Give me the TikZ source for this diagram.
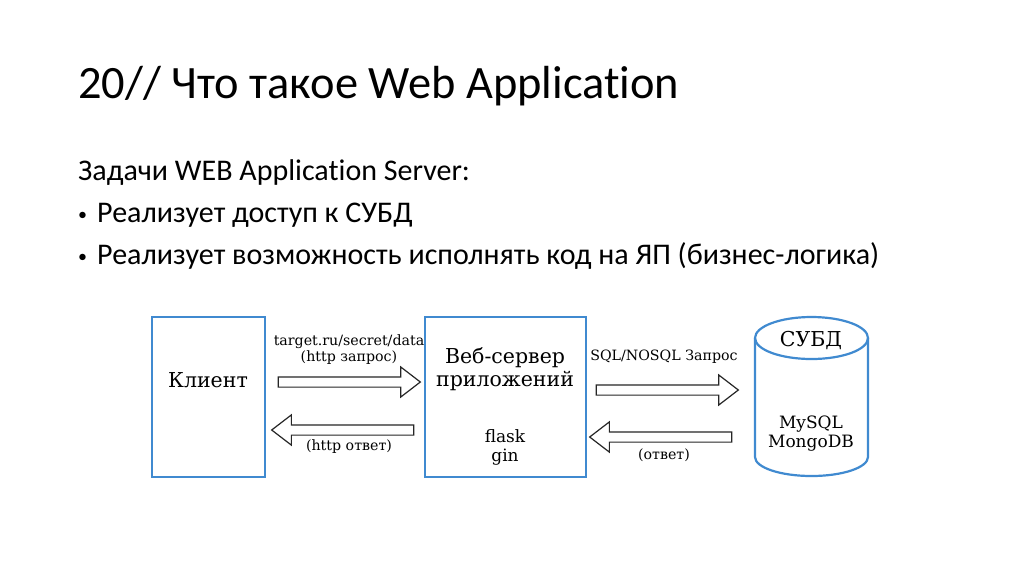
\documentclass[tikz,border=0pt]{standalone}
\usepackage{fontspec}
\setmainfont{Carlito}[Ligatures=NoCommon]
\newfontfamily\schemefont{DejaVu Serif}
\usetikzlibrary{shapes.arrows}

\definecolor{boxblue}{RGB}{64,138,208}

\newcommand{\itemdot}{\makebox[19pt][l]{\fontsize{18}{18}\selectfont\raisebox{2pt}{•}}}

\tikzset{
  box/.style={draw=boxblue, line width=2.2pt, minimum width=113pt, minimum height=160pt, inner sep=0pt},
  fatarrow/.style={single arrow, draw=black!85, line width=1.2pt, fill=white, inner sep=4.5pt,
    minimum height=142pt, single arrow head extend=10pt, single arrow tip angle=75},
  lbl/.style={font=\schemefont\fontsize{14.2}{16}\selectfont, align=center, inner sep=0pt},
  big/.style={font=\schemefont\fontsize{20.5}{24}\selectfont, align=center, inner sep=0pt},
  small/.style={font=\schemefont\fontsize{17}{21}\selectfont, align=center, inner sep=0pt},
  slide/.style={anchor=base west, inner sep=0pt, font=\fontsize{30}{36}\selectfont}
}

\begin{document}
\begin{tikzpicture}[x=1pt,y=-1pt]
\useasboundingbox[fill=white] (0,0) rectangle (1024,574);

%% slide text
\node[slide, font=\fontsize{46.4}{56}\selectfont] (title) at (78,98) {20// Что такое Web Application};
\node[slide] (tasks) at (78,180) {Задачи WEB Application Server:};
\node[slide] (item1) at (78,222) {\itemdot Реализует доступ к СУБД};
\node[slide] (item2) at (78,264) {\itemdot Реализует возможность исполнять код на ЯП (бизнес-логика)};

%% boxes
\node[box] (client) at (208.5,397) {};
\node[box, minimum width=161pt] (server) at (505.5,397) {};
\node[minimum width=113pt, minimum height=160pt, inner sep=0pt] (db) at (811.5,397) {};

%% cylinder
\draw[boxblue, line width=2.2pt] (811.5,338) ellipse [x radius=56.5, y radius=21];
\draw[boxblue, line width=2.2pt] (755,338) -- (755,457) arc[start angle=180, end angle=0, x radius=56.5, y radius=19] -- (868,338);

%% box texts
\node[big] (clientname) at (208,380) {Клиент};
\node[big] (servername) at (505,369) {Веб-сервер\\[-1pt]приложений};
\node[small] (frameworks) at (505,447) {flask\\[-2pt]gin};
\node[big] (dbname) at (811,340) {СУБД};
\node[small] (dbkinds) at (811,434) {MySQL\\[-2pt]MongoDB};

%% arrows
\node[fatarrow] (httpreq) at (346,382) {};
\node[fatarrow, shape border rotate=180] (httpresp) at (346,430) {};
\node[fatarrow] (sqlreq) at (664,390) {};
\node[fatarrow, shape border rotate=180] (sqlresp) at (664,437) {};

%% arrow labels
\node[lbl] (reqtext) at (349,350) {target.ru/secret/data\\(http запрос)};
\node[lbl] (resptext) at (349,447) {(http ответ)};
\node[lbl] (sqltext) at (664,357) {SQL/NOSQL Запрос};
\node[lbl] (answertext) at (664,455) {(ответ)};

\end{tikzpicture}
\end{document}
